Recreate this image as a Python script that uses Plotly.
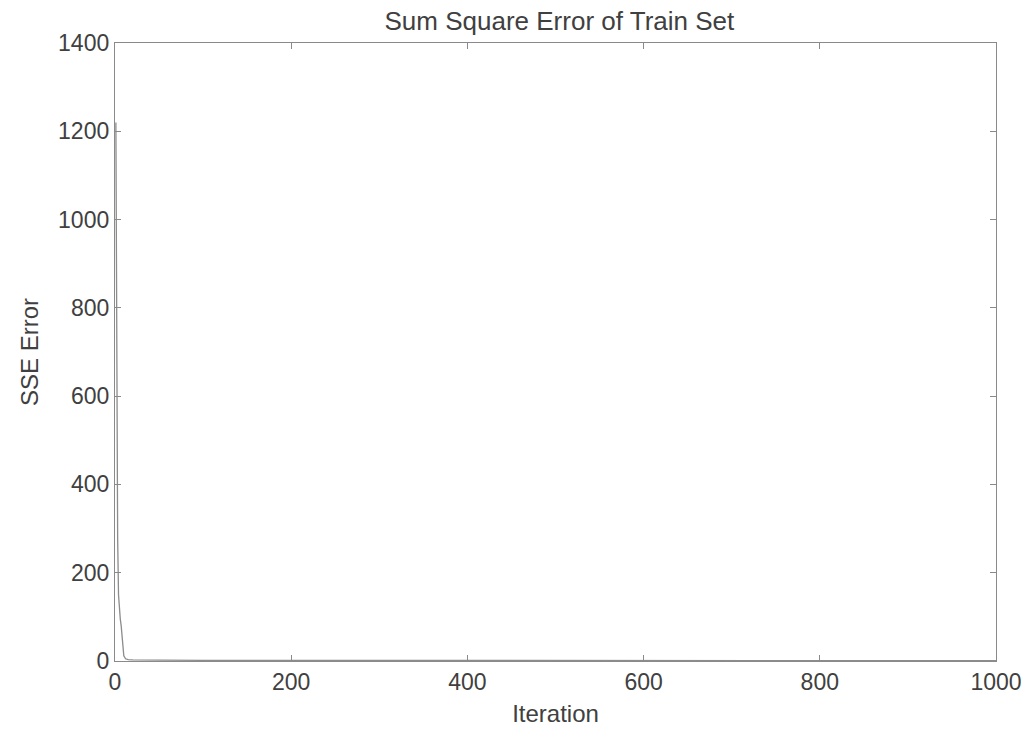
import plotly.graph_objects as go

# Training SSE per iteration (fast drop in the first few iterations, then flat)
iterations = [1, 2, 3, 4, 5, 6, 7, 8, 9, 10, 12, 15, 20, 30, 50, 100, 200, 400, 600, 800, 1000]
sse_error = [1220, 640, 280, 150, 110, 95, 80, 60, 35, 12, 5, 3, 2.5, 2, 1.8, 1.5, 1.2, 1.0, 0.9, 0.8, 0.8]

x_ticks = [0, 200, 400, 600, 800, 1000]
y_ticks = [0, 200, 400, 600, 800, 1000, 1200, 1400]

font_family = "Liberation Sans, Arial, sans-serif"
axis_color = "#8a8a8a"
text_color = "#404040"

fig = go.Figure()
fig.add_trace(go.Scatter(
    x=iterations, y=sse_error, mode="lines",
    line=dict(color="#8c8c8c", width=1.3),
    showlegend=False,
))

axis_common = dict(
    showgrid=False, zeroline=False, showline=True, mirror="ticks",
    linecolor=axis_color, linewidth=1.3,
    ticks="inside", ticklen=6, tickcolor=axis_color,
    tickfont=dict(family=font_family, size=23, color=text_color),
)

fig.update_layout(
    width=1034, height=735,
    margin=dict(l=115, r=37, t=43, b=72),
    paper_bgcolor="white", plot_bgcolor="white",
    title=dict(text="Sum Square Error of Train Set", x=0.541, xanchor="center",
               y=0.972, yanchor="middle",
               font=dict(family=font_family, size=26, color=text_color)),
    xaxis=dict(range=[0, 1000], tickvals=x_ticks,
               title=dict(text="Iteration", standoff=11,
                          font=dict(family=font_family, size=24, color=text_color)),
               **axis_common),
    yaxis=dict(range=[0, 1400], tickvals=y_ticks,
               title=dict(text="SSE Error", standoff=12,
                          font=dict(family=font_family, size=24, color=text_color)),
               **axis_common),
)

fig.write_html("out.html")
